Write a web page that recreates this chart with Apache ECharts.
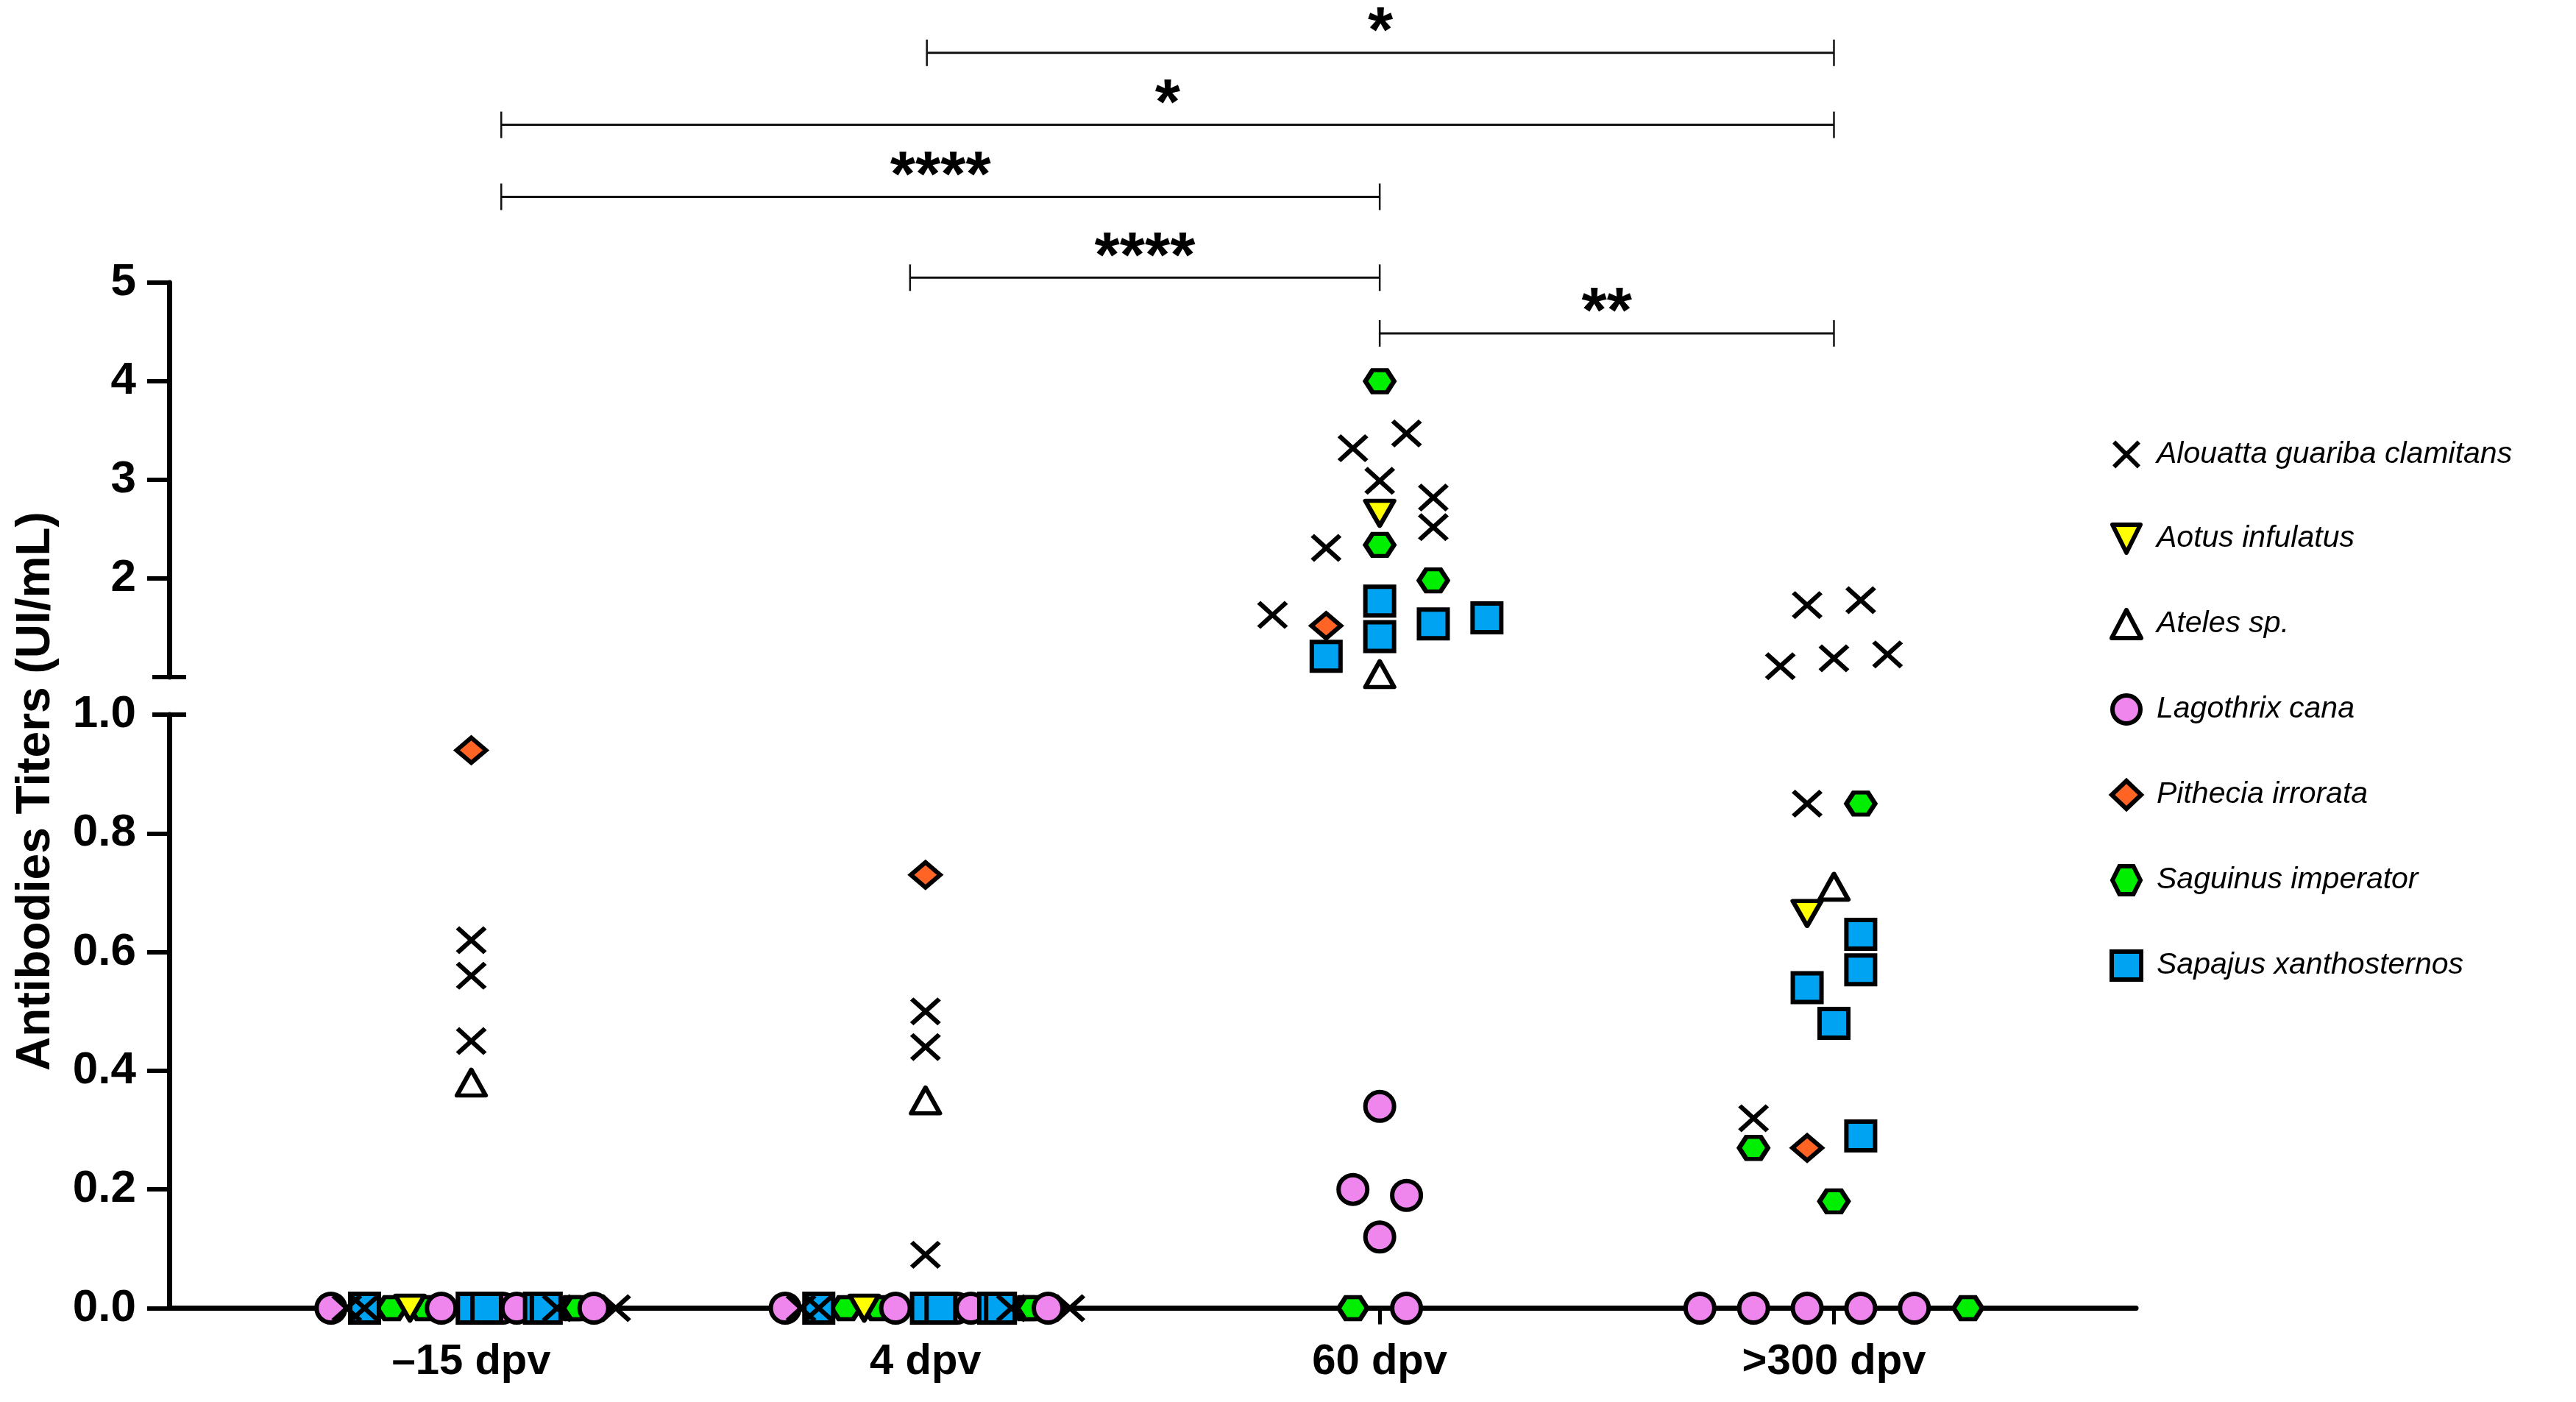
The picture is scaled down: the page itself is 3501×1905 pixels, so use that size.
<!DOCTYPE html>
<html>
<head>
<meta charset="utf-8">
<script src="https://cdn.jsdelivr.net/npm/echarts@6/dist/echarts.min.js"></script>
<style>
html,body{margin:0;padding:0;background:#fff;}
#chart{width:3501px;height:1905px;}
</style>
</head>
<body>
<div id="chart"></div>
<script>
// ---------------- data ----------------
const groups = ['\u201315 dpv', '4 dpv', '60 dpv', '>300 dpv'];
const legendOrder = ['Alouatta guariba clamitans', 'Aotus infulatus', 'Ateles sp.', 'Lagothrix cana', 'Pithecia irrorata', 'Saguinus imperator', 'Sapajus xanthosternos'];

// values per group: [-15 dpv, 4 dpv, 60 dpv, >300 dpv]
const alouattaVals = [[0.62, 0.56, 0.45, 0, 0, 0, 0], [0.50, 0.44, 0.09, 0, 0, 0, 0], [3.32, 3.47, 2.99, 2.82, 2.52, 2.31, 1.63], [1.73, 1.78, 1.11, 1.19, 1.23, 0.85, 0.32]];
const aotusVals = [[0], [0], [2.66], [0.665]];
const atelesVals = [[0.38], [0.35], [1.03], [0.71]];
const lagothrixVals = [[0, 0, 0, 0, 0], [0, 0, 0, 0, 0], [0.34, 0.20, 0.19, 0.12, 0], [0, 0, 0, 0, 0]];
const pitheciaVals = [[0.94], [0.73], [1.52], [0.27]];
const saguinusVals = [[0, 0, 0, 0], [0, 0, 0, 0], [4.0, 2.34, 1.98, 0], [0.85, 0.27, 0.18, 0]];
const sapajusVals = [[0, 0, 0, 0, 0], [0, 0, 0, 0, 0], [1.77, 1.41, 1.54, 1.60, 1.21], [0.63, 0.57, 0.54, 0.48, 0.29]];

// horizontal scatter offsets (category units) of each point within its group
const alouattaJit = [[0, 0, 0, -0.274, -0.235, 0.189, 0.318], [0, 0, 0, -0.274, -0.235, 0.189, 0.318], [-0.059, 0.059, 0, 0.118, 0.118, -0.118, -0.236], [-0.059, 0.059, -0.118, 0, 0.118, -0.059, -0.177]];
const aotusJit = [[-0.135], [-0.135], [0], [-0.059]];
const atelesJit = [[0], [0], [0], [0]];
const lagothrixJit = [[-0.309, -0.066, 0.069, 0.100, 0.270], [-0.309, -0.066, 0.069, 0.100, 0.270], [0, -0.059, 0.059, 0, 0.059], [-0.295, -0.177, -0.059, 0.059, 0.177]];
const pitheciaJit = [[0], [0], [-0.118], [-0.059]];
const saguinusJit = [[-0.175, -0.104, 0.222, 0.235], [-0.175, -0.104, 0.222, 0.235], [0, 0, 0.118, -0.059], [0.059, -0.177, 0, 0.295]];
const sapajusJit = [[-0.235, 0.002, 0.034, 0.150, 0.165], [-0.235, 0.002, 0.034, 0.150, 0.165], [0, 0, 0.118, 0.236, -0.118], [0.059, 0.059, -0.059, 0, 0.059]];

// y-axis ticks
const topTicks = [2, 3, 4, 5];
const bottomTicks = [0, 0.2, 0.4, 0.6, 0.8];
const bottomLabels = [0, 0.2, 0.4, 0.6, 0.8, 1.0];
const axisBreak = 1;

// significance brackets: [from group, to group, height on the titer scale]
const brackets = [[1.003, 3, 7.33], [0.066, 3, 6.60], [0.066, 2, 5.87], [0.966, 2, 5.05], [2, 3, 4.485]];
const bracketLabels = ['*', '*', '****', '****', '**'];

// ---------------- styles ----------------
const FONT = '"Liberation Sans", Arial, Helvetica, sans-serif';
const X_MIN = -0.665, X_MAX = 3.665;
const xPath = 'path://M11,0 L50,39 L89,0 L100,11 L61,50 L100,89 L89,100 L50,61 L11,100 L0,89 L39,50 L0,11 Z';
const hexPath = 'path://M25,0 L75,0 L100,50 L75,100 L25,100 L0,50 Z';
const downTri = 'path://M0,0 L100,0 L50,100 Z';

const speciesDefs = {
  'Alouatta guariba clamitans': {vals: alouattaVals, jit: alouattaJit, symbol: xPath, size: [42, 38], color: '#000', bw: 0, join: 'miter'},
  'Aotus infulatus': {vals: aotusVals, jit: aotusJit, symbol: downTri, size: [39, 34], color: '#FFFF00', bw: 6, join: 'round'},
  'Ateles sp.': {vals: atelesVals, jit: atelesJit, symbol: 'triangle', size: [39, 35], color: 'rgba(255,255,255,0)', bw: 6, join: 'round'},
  'Lagothrix cana': {vals: lagothrixVals, jit: lagothrixJit, symbol: 'circle', size: 39, color: '#EE86EE', bw: 6, join: 'miter'},
  'Pithecia irrorata': {vals: pitheciaVals, jit: pitheciaJit, symbol: 'diamond', size: [40, 34], color: '#FF6424', bw: 6, join: 'miter'},
  'Saguinus imperator': {vals: saguinusVals, jit: saguinusJit, symbol: hexPath, size: [39, 30], color: '#00EE00', bw: 6, join: 'miter'},
  'Sapajus xanthosternos': {vals: sapajusVals, jit: sapajusJit, symbol: 'rect', size: 39, color: '#00A2F2', bw: 6, join: 'miter'}
};
// drawing order (bottom to top)
const drawOrder = ['Saguinus imperator', 'Lagothrix cana', 'Aotus infulatus', 'Sapajus xanthosternos', 'Ateles sp.', 'Pithecia irrorata', 'Alouatta guariba clamitans'];

function pointsFor(def, upper) {
  const out = [];
  def.vals.forEach((arr, g) => {
    arr.forEach((v, i) => {
      if ((v > axisBreak) === upper) out.push([g + def.jit[g][i], v]);
    });
  });
  return out;
}

const series = [];
drawOrder.forEach(name => {
  const d = speciesDefs[name];
  [true, false].forEach(upper => {
    series.push({
      type: 'scatter', name: name,
      xAxisIndex: upper ? 0 : 1, yAxisIndex: upper ? 0 : 1,
      symbol: d.symbol, symbolSize: d.size, clip: false,
      itemStyle: {color: d.color, borderColor: '#000', borderWidth: d.bw, borderJoin: d.join, opacity: 1},
      emphasis: {disabled: true},
      data: pointsFor(d, upper)
    });
  });
});

// axis break marks
[0, 1].forEach(idx => {
  series.push({
    type: 'custom', xAxisIndex: idx, yAxisIndex: idx, silent: true, z: 5,
    data: [[X_MIN, axisBreak]],
    renderItem: (params, api) => {
      const c = api.coord([api.value(0), api.value(1)]);
      return {type: 'line', shape: {x1: c[0] - 23, y1: c[1], x2: c[0] + 23, y2: c[1]}, style: {stroke: '#000', lineWidth: 6}};
    }
  });
});

// significance brackets
series.push({
  type: 'custom', xAxisIndex: 0, yAxisIndex: 0, silent: true, clip: false,
  encode: {x: [0, 1], y: 2},
  data: brackets,
  renderItem: (params, api) => {
    const p1 = api.coord([api.value(0), api.value(2)]);
    const p2 = api.coord([api.value(1), api.value(2)]);
    const cx = (p1[0] + p2[0]) / 2;
    return {type: 'group', children: [
      {type: 'line', shape: {x1: p1[0], y1: p1[1], x2: p2[0], y2: p2[1]}, style: {stroke: '#111', lineWidth: 3}},
      {type: 'line', shape: {x1: p1[0], y1: p1[1] - 18, x2: p1[0], y2: p1[1] + 18}, style: {stroke: '#111', lineWidth: 2.5}},
      {type: 'line', shape: {x1: p2[0], y1: p2[1] - 18, x2: p2[0], y2: p2[1] + 18}, style: {stroke: '#111', lineWidth: 2.5}},
      {type: 'text', x: cx, y: p1[1] - 26, style: {text: bracketLabels[params.dataIndex], fill: '#000', font: 'bold 88px ' + FONT, align: 'center', verticalAlign: 'middle'}}
    ]};
  }
});

const tickLabelStyle = {color: '#000', fontSize: 62, fontWeight: 'bold', fontFamily: FONT};
const catLabelStyle = {color: '#000', fontSize: 58, fontWeight: 'bold', fontFamily: FONT};

const option = {
  animation: false,
  backgroundColor: '#fff',
  grid: [
    {left: 230, right: 598, top: 384, height: 536},
    {left: 230, right: 598, top: 971, height: 806.5}
  ],
  xAxis: [
    {type: 'value', gridIndex: 0, min: X_MIN, max: X_MAX, show: false},
    {type: 'value', gridIndex: 1, min: X_MIN, max: X_MAX,
      axisLine: {show: true, onZero: false, lineStyle: {color: '#000', width: 7}},
      axisTick: {show: true, customValues: [0, 1, 2, 3], length: 22, lineStyle: {color: '#000', width: 5}},
      axisLabel: Object.assign({customValues: [0, 1, 2, 3], margin: 44, formatter: v => groups[Math.round(v)]}, catLabelStyle),
      splitLine: {show: false}}
  ],
  yAxis: [
    {type: 'value', gridIndex: 0, min: 1, max: 5, interval: 1,
      axisLine: {show: true, onZero: false, lineStyle: {color: '#000', width: 7}},
      axisTick: {show: true, customValues: topTicks, length: 30, lineStyle: {color: '#000', width: 6}},
      axisLabel: Object.assign({customValues: topTicks, margin: 45, formatter: v => String(v)}, tickLabelStyle),
      splitLine: {show: false}},
    {type: 'value', gridIndex: 1, min: 0, max: 1, interval: 0.2,
      axisLine: {show: true, onZero: false, lineStyle: {color: '#000', width: 7}},
      axisTick: {show: true, customValues: bottomTicks, length: 30, lineStyle: {color: '#000', width: 6}},
      axisLabel: Object.assign({customValues: bottomLabels, margin: 45, formatter: v => Number(v).toFixed(1)}, tickLabelStyle),
      splitLine: {show: false}}
  ],
  legend: {
    orient: 'vertical', left: 2867, top: 597, padding: 0,
    itemWidth: 40, itemHeight: 38, itemGap: 72,
    selectedMode: false,
    textStyle: {color: '#000', fontSize: 41, fontStyle: 'italic', fontFamily: FONT, lineHeight: 38, padding: [0, 0, 0, 16]},
    data: legendOrder.map(n => ({name: n, itemStyle: {borderWidth: speciesDefs[n].bw, borderColor: '#000'}}))
  },
  graphic: [
    {type: 'text', x: 49, y: 1075, rotation: Math.PI / 2,
      style: {text: 'Antibodies Titers (UI/mL)', font: 'bold 64px ' + FONT, fill: '#000', align: 'center', verticalAlign: 'middle'}}
  ],
  series: series
};

const chart = echarts.init(document.getElementById('chart'), null, {renderer: 'canvas'});
chart.setOption(option);
</script>
</body>
</html>
